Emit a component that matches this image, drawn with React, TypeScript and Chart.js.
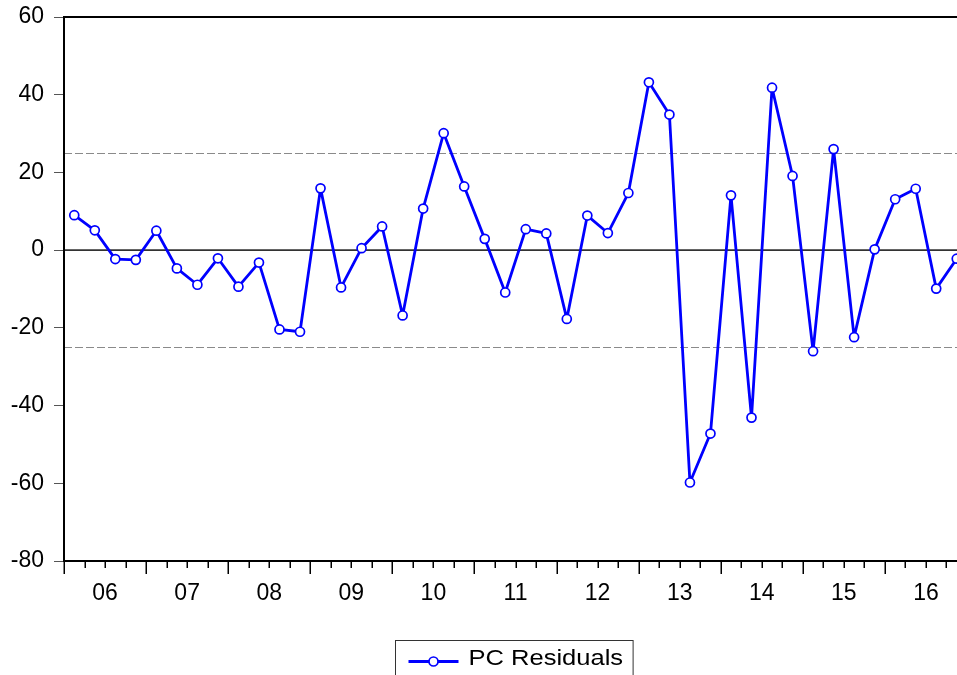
import React, { useEffect, useRef } from "react";
import { Chart, registerables } from "chart.js";

Chart.register(...registerables);

// ---- data ----
const years = ["06", "07", "08", "09", "10", "11", "12", "13", "14", "15", "16"];
const quartersPerYear = 4;
const seriesName = "PC Residuals";
const residuals = [
  9.0, 5.1, -2.3, -2.5,
  5.0, -4.7, -8.9, -2.1,
  -9.4, -3.2, -20.4, -21.0,
  15.9, -9.6, 0.5, 6.1,
  -16.8, 10.7, 30.1, 16.4,
  2.9, -10.9, 5.4, 4.3,
  -17.7, 8.9, 4.4, 14.7,
  43.2, 34.9, -59.8, -47.2,
  14.1, -43.1, 41.8, 19.1,
  -26.0, 26.0, -22.4, 0.2,
  13.1, 15.8, -9.9, -2.2,
];
const bandLevels = [25, -25];
const zeroLevel = 0;
const yMin = -80;
const yMax = 60;
const yStep = 20;

const BLUE = "#0000FF";
const FONT = "'Liberation Sans', Arial, Helvetica, sans-serif";

export default function App() {
  const canvasRef = useRef<HTMLCanvasElement | null>(null);

  useEffect(() => {
    const canvas = canvasRef.current;
    if (!canvas) return;
    const nQ = years.length * quartersPerYear;
    const points = residuals.map((v, i) => ({ x: i + 0.5, y: v }));

    const framePlugin = {
      id: "eviewsFrame",
      beforeDatasetsDraw(chart: any) {
        const { ctx, chartArea: a, scales } = chart;
        const ys = scales.y;
        ctx.save();
        // band lines
        ctx.strokeStyle = "#8a8a8a";
        ctx.lineWidth = 1;
        ctx.setLineDash([8, 3]);
        bandLevels.forEach((lv) => {
          const py = Math.round(ys.getPixelForValue(lv)) + 0.5;
          ctx.beginPath();
          ctx.moveTo(a.left, py);
          ctx.lineTo(a.right, py);
          ctx.stroke();
        });
        ctx.setLineDash([]);
        // zero line
        ctx.strokeStyle = "#333";
        ctx.lineWidth = 1.7;
        const zy = ys.getPixelForValue(zeroLevel);
        ctx.beginPath();
        ctx.moveTo(a.left, zy);
        ctx.lineTo(a.right, zy);
        ctx.stroke();
        ctx.restore();
      },
      afterDraw(chart: any) {
        const { ctx, chartArea: a, scales } = chart;
        const xs = scales.x;
        ctx.save();
        // frame
        ctx.strokeStyle = "#000";
        ctx.lineWidth = 2;
        ctx.strokeRect(a.left, a.top, a.right - a.left, a.bottom - a.top);
        // x tick marks (quarters, years longer)
        ctx.lineWidth = 1.5;
        for (let i = 0; i <= nQ; i++) {
          const px = Math.round(xs.getPixelForValue(i)) + 0.25;
          const len = i % quartersPerYear === 0 ? 13 : 7;
          ctx.beginPath();
          ctx.moveTo(px, a.bottom);
          ctx.lineTo(px, a.bottom + len);
          ctx.stroke();
        }
        // legend
        const ds = chart.data.datasets[0];
        const fontPx = 22;
        const stretch = 1.16;
        ctx.font = `${fontPx}px ${FONT}`;
        const tw = ctx.measureText(ds.label).width * stretch;
        const sampleW = 50;
        const gap = 10;
        const padL = 13;
        const padR = 10;
        const boxW = padL + sampleW + gap + tw + padR;
        const cx = (a.left + a.right) / 2 - 2;
        const bx = Math.round(cx - boxW / 2) + 0.5;
        const by = 640.5;
        ctx.strokeStyle = "#333";
        ctx.lineWidth = 1;
        ctx.strokeRect(bx, by, boxW, 50);
        const ly = by + 21;
        ctx.strokeStyle = ds.borderColor;
        ctx.lineWidth = ds.borderWidth;
        ctx.beginPath();
        ctx.moveTo(bx + padL, ly);
        ctx.lineTo(bx + padL + sampleW, ly);
        ctx.stroke();
        ctx.beginPath();
        ctx.arc(bx + padL + sampleW / 2, ly, ds.pointRadius, 0, Math.PI * 2);
        ctx.fillStyle = ds.pointBackgroundColor;
        ctx.fill();
        ctx.lineWidth = ds.pointBorderWidth;
        ctx.stroke();
        ctx.translate(bx + padL + sampleW + gap, by + 18.5);
        ctx.scale(stretch, 1);
        ctx.fillStyle = "#000";
        ctx.textBaseline = "middle";
        ctx.textAlign = "left";
        ctx.fillText(ds.label, 0, 0);
        ctx.restore();
      },
    };

    const chart = new Chart(canvas, {
      type: "line",
      data: {
        datasets: [
          {
            label: seriesName,
            data: points,
            borderColor: BLUE,
            borderWidth: 2.8,
            borderJoinStyle: "round",
            pointRadius: 4.5,
            pointBorderWidth: 1.7,
            pointBackgroundColor: "#fff",
            pointBorderColor: BLUE,
            tension: 0,
            fill: false,
          },
        ],
      },
      options: {
        animation: false,
        responsive: true,
        maintainAspectRatio: false,
        layout: { padding: { top: 17, right: 8, bottom: 0, left: 0 } },
        plugins: {
          legend: { display: false },
          tooltip: { enabled: false },
        },
        scales: {
          x: {
            type: "linear",
            min: 0,
            max: nQ,
            afterBuildTicks: (s: any) => {
              s.ticks = years.map((_, k) => ({ value: k * quartersPerYear + quartersPerYear / 2 }));
            },
            afterFit: (s: any) => {
              s.height = 114;
              s.paddingLeft = 0;
              s.paddingRight = 0;
            },
            ticks: {
              autoSkip: false,
              maxRotation: 0,
              padding: 11,
              color: "#000",
              font: { family: FONT, size: 23 },
              callback: (v: any) => years[Math.round((Number(v) - quartersPerYear / 2) / quartersPerYear)] ?? "",
            },
            grid: { display: false },
            border: { display: false },
          },
          y: {
            type: "linear",
            min: yMin,
            max: yMax,
            afterFit: (s: any) => {
              s.width = 64;
              s.paddingTop = 0;
              s.paddingBottom = 0;
            },
            ticks: {
              stepSize: yStep,
              padding: 10,
              color: "#000",
              font: { family: FONT, size: 23 },
            },
            grid: {
              display: true,
              drawOnChartArea: false,
              drawTicks: true,
              tickLength: 10,
              color: "#555",
              lineWidth: 1,
            },
            border: { display: false },
          },
        },
      },
      plugins: [framePlugin],
    } as any);

    return () => chart.destroy();
  }, []);

  return (
    <div style={{ position: "fixed", left: 0, top: 0, width: 957, height: 675, overflow: "hidden", background: "#fff" }}>
      <div style={{ position: "relative", width: 975, height: 675 }}>
        <canvas ref={canvasRef} />
      </div>
    </div>
  );
}
